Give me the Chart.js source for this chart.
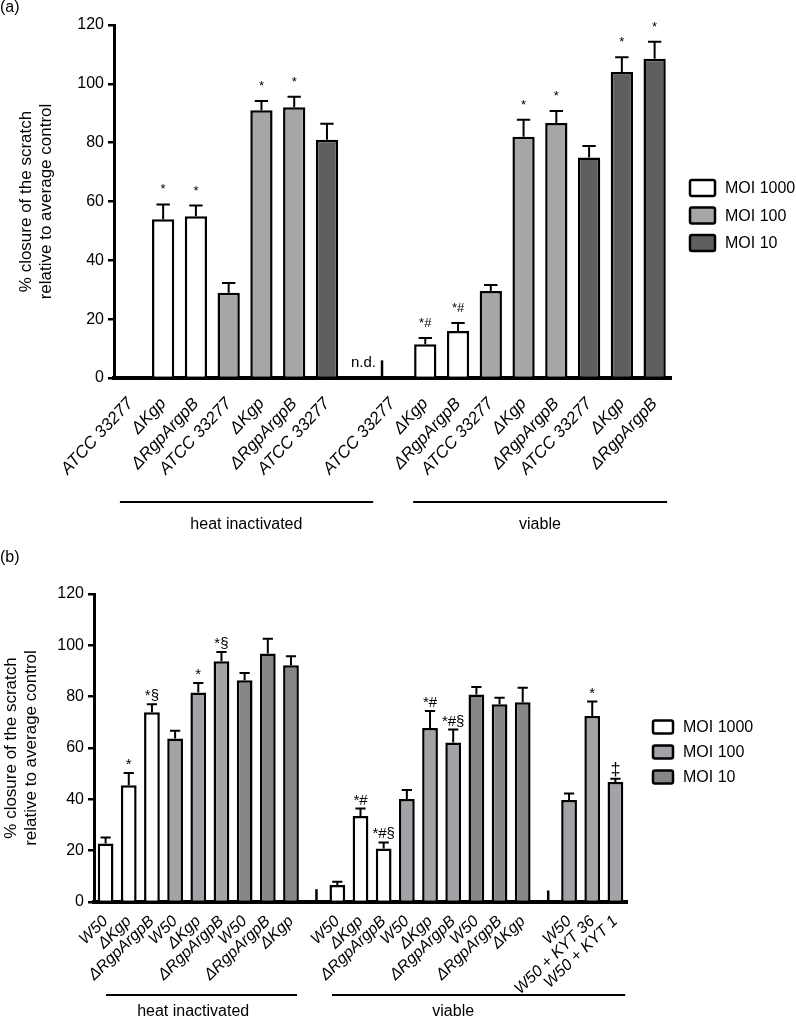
<!DOCTYPE html>
<html>
<head>
<meta charset="utf-8">
<script src="https://cdn.jsdelivr.net/npm/chart.js@4"></script>
<style>
  body { margin: 0; background: #fff; }
  .panel { position: absolute; left: 0; width: 796px; }
  #wrapA { top: 0; height: 545px; }
  #wrapB { top: 545px; height: 476px; }
</style>
</head>
<body>
<div class="panel" id="wrapA"><canvas id="chartA"></canvas></div>
<div class="panel" id="wrapB"><canvas id="chartB"></canvas></div>
<script>
// ---- panel (a) ----
const labelsA = ['ATCC 33277', 'ΔKgp', 'ΔRgpArgpB', 'ATCC 33277', 'ΔKgp', 'ΔRgpArgpB', 'ATCC 33277', '',
  'ATCC 33277', 'ΔKgp', 'ΔRgpArgpB', 'ATCC 33277', 'ΔKgp', 'ΔRgpArgpB', 'ATCC 33277', 'ΔKgp', 'ΔRgpArgpB'];
const moi1000A = [null, 54, 55, null, null, null, null, null, null, 11.5, 16, null, null, null, null, null, null];
const moi100A  = [null, null, null, 29, 91, 92, null, null, null, null, null, 29.6, 82, 86.7, null, null, null];
const moi10A   = [null, null, null, null, null, null, 81, null, null, null, null, null, null, null, 75, 104, 108.5];
const sem1000A = [null, 5, 3.6, null, null, null, null, null, null, 2.1, 2.7, null, null, null, null, null, null];
const sem100A  = [null, null, null, 3.3, 3.2, 3.6, null, null, null, null, null, 2, 5.8, 4.1, null, null, null];
const sem10A   = [null, null, null, null, null, null, 5.4, null, null, null, null, null, null, null, 3.9, 5, 5.8];
const marksA   = ['', '*', '*', '', '*', '*', '', '', '', '*#', '*#', '', '*', '*', '', '*', '*'];
const stubsA   = [null, null, null, null, null, null, null, null, 6, null, null, null, null, null, null, null, null];

// ---- panel (b) ----
const labelsB = ['W50', 'ΔKgp', 'ΔRgpArgpB', 'W50', 'ΔKgp', 'ΔRgpArgpB', 'W50', 'ΔRgpArgpB', 'ΔKgp', '',
  'W50', 'ΔKgp', 'ΔRgpArgpB', 'W50', 'ΔKgp', 'ΔRgpArgpB', 'W50', 'ΔRgpArgpB', 'ΔKgp', '',
  'W50', 'W50 + KYT 36', 'W50 + KYT 1'];
const moi1000B = [22.8, 45.5, 73.9, null, null, null, null, null, null, null,
  6.6, 33.5, 20.8, null, null, null, null, null, null, null, null, null, null];
const moi100B  = [null, null, null, 63.7, 81.6, 93.8, null, null, null, null,
  null, null, null, 40.1, 67.8, 62.1, null, null, null, null, 39.7, 72.5, 46.8];
const moi10B   = [null, null, null, null, null, null, 86.4, 96.8, 92.2, null,
  null, null, null, null, null, null, 80.8, 77, 77.8, null, null, null, null];
const sem1000B = [2.3, 4.8, 3.1, null, null, null, null, null, null, null,
  1.3, 2.9, 2.4, null, null, null, null, null, null, null, null, null, null];
const sem100B  = [null, null, null, 3, 3.7, 3.6, null, null, null, null,
  null, null, null, 3.5, 6.6, 5.1, null, null, null, null, 2.6, 5.6, 1.2];
const sem10B   = [null, null, null, null, null, null, 2.8, 5.8, 3.5, null,
  null, null, null, null, null, null, 3, 2.6, 5.7, null, null, null, null];
const marksB   = ['', '*', '*§', '', '*', '*§', '', '', '', '',
  '', '*#', '*#§', '', '*#', '*#§', '', '', '', '', '', '*', '‡'];
const stubsB   = [null, null, null, null, null, null, null, null, null, 5,
  null, null, null, null, null, null, null, null, null, 4.5, null, null, null];

const seriesNames = ['MOI 1000', 'MOI 100', 'MOI 10'];
const FONT = '"Liberation Sans", Arial, Helvetica, sans-serif';

Chart.defaults.font.family = FONT;
Chart.defaults.color = '#000';

// error bars, significance marks, stubs, legend, group brackets
const extras = {
  id: 'extras',
  afterDatasetsDraw(chart, args, o) {
    const {ctx, scales: {x, y}} = chart;
    ctx.save();
    ctx.strokeStyle = '#000';
    ctx.fillStyle = '#000';
    chart.data.datasets.forEach((ds, d) => {
      const meta = chart.getDatasetMeta(d);
      ds.data.forEach((v, i) => {
        if (v === null) return;
        const bar = meta.data[i];
        const top = y.getPixelForValue(v + o.sems[d][i]);
        const cap = bar.width * o.capFrac;
        ctx.lineWidth = 2;
        ctx.beginPath();
        ctx.moveTo(bar.x, bar.y);
        ctx.lineTo(bar.x, top);
        ctx.moveTo(bar.x - cap / 2, top);
        ctx.lineTo(bar.x + cap / 2, top);
        ctx.stroke();
        if (o.marks[i]) {
          ctx.font = o.marks[i] === '‡' ? '18px ' + FONT : o.markFont;
          ctx.textAlign = 'center';
          ctx.textBaseline = 'alphabetic';
          ctx.fillText(o.marks[i], bar.x, top - o.markGap);
        }
      });
    });
    // short stubs for empty / not determined slots
    const pitch = x.getPixelForValue(1) - x.getPixelForValue(0);
    o.stubs.forEach((h, i) => {
      if (h === null) return;
      const sx = x.getPixelForValue(i) + o.stubShift * pitch;
      ctx.lineWidth = 2.5;
      ctx.beginPath();
      ctx.moveTo(sx, y.getPixelForValue(0));
      ctx.lineTo(sx, y.getPixelForValue(h));
      ctx.stroke();
      if (o.ndText) {
        ctx.font = '15px ' + FONT;
        ctx.textAlign = 'right';
        ctx.textBaseline = 'middle';
        ctx.fillText(o.ndText, sx - 6, y.getPixelForValue(5));
      }
    });
    // group brackets below the axis
    o.groups.forEach(g => {
      ctx.lineWidth = 2;
      ctx.beginPath();
      ctx.moveTo(x.getPixelForValue(g.from), o.bracketY);
      ctx.lineTo(x.getPixelForValue(g.to), o.bracketY);
      ctx.stroke();
      ctx.font = '16px ' + FONT;
      ctx.textAlign = 'center';
      ctx.textBaseline = 'middle';
      ctx.fillText(g.text, x.getPixelForValue(g.at), o.bracketY + o.groupGap);
    });
    // legend
    const L = o.legend;
    chart.data.datasets.forEach((ds, k) => {
      const yy = L.y + k * L.gap;
      ctx.beginPath();
      ctx.roundRect(L.x, yy - L.h / 2, L.w, L.h, 2);
      ctx.fillStyle = ds.backgroundColor;
      ctx.fill();
      ctx.lineWidth = 2.5;
      ctx.stroke();
      ctx.fillStyle = '#000';
      ctx.font = '16px ' + FONT;
      ctx.textAlign = 'left';
      ctx.textBaseline = 'middle';
      ctx.fillText(ds.label, L.x + L.w + 10, yy + 1);
    });
    // panel letter
    ctx.font = '16px ' + FONT;
    ctx.textAlign = 'left';
    ctx.textBaseline = 'middle';
    ctx.fillText(o.letter, 0, o.letterY);
    ctx.restore();
  }
};

function makeChart(id, cfg) {
  const datasets = cfg.series.map((vals, k) => ({
    label: seriesNames[k],
    data: vals,
    backgroundColor: cfg.colors[k],
    borderColor: '#000',
    borderWidth: 2.5,
    grouped: false,
    categoryPercentage: 1,
    barPercentage: 0.68
  }));
  return new Chart(document.getElementById(id), {
    type: 'bar',
    data: { labels: cfg.labels, datasets },
    plugins: [extras],
    options: {
      responsive: true,
      maintainAspectRatio: false,
      animation: false,
      layout: { padding: cfg.padding },
      plugins: {
        legend: { display: false },
        tooltip: { enabled: false },
        extras: cfg.extras
      },
      scales: {
        x: {
          grid: { display: false },
          border: { display: true, color: '#000', width: 4 },
          ticks: {
            autoSkip: false,
            minRotation: cfg.rotation,
            maxRotation: cfg.rotation,
            padding: cfg.xPad,
            font: { size: cfg.xFont, style: 'italic' }
          },
          afterFit(s) { s.height = cfg.xHeight; }
        },
        y: {
          min: 0,
          max: 120,
          ticks: { stepSize: 20, padding: 4, font: { size: 16 } },
          grid: { drawOnChartArea: false, drawTicks: true, tickLength: 6, lineWidth: 2.5, color: '#000' },
          border: { display: true, color: '#000', width: 3 },
          title: {
            display: true,
            text: ['% closure of the scratch', 'relative to average control'],
            font: { size: 17, lineHeight: 1.15 },
            padding: { top: cfg.titlePad, bottom: 0 }
          },
          afterFit(s) { s.width = cfg.yWidth; }
        }
      }
    }
  });
}

makeChart('chartA', {
  labels: labelsA,
  series: [moi1000A, moi100A, moi10A],
  colors: ['#ffffff', '#a6a6a6', '#5f5f5f'],
  padding: { left: 0, right: 125, top: 25, bottom: 0 },
  xHeight: 167,
  yWidth: 114,
  rotation: 47,
  xPad: 8,
  xFont: 17,
  titlePad: 17,
  extras: {
    sems: [sem1000A, sem100A, sem10A],
    marks: marksA,
    markFont: '13px ' + FONT,
    markGap: 11,
    capFrac: 0.6,
    stubs: stubsA,
    stubShift: -0.32,
    ndText: 'n.d.',
    groups: [
      { text: 'heat inactivated', from: -0.32, to: 7.41, at: 3.54 },
      { text: 'viable', from: 8.63, to: 16.38, at: 12.5 }
    ],
    bracketY: 502,
    groupGap: 23,
    legend: { x: 690, y: 188, gap: 27.5, w: 25, h: 16 },
    letter: '(a)',
    letterY: 8
  }
});

makeChart('chartB', {
  labels: labelsB,
  series: [moi1000B, moi100B, moi10B],
  colors: ['#ffffff', '#a3a3a7', '#868686'],
  padding: { left: 0, right: 169, top: 49, bottom: 0 },
  xHeight: 119,
  yWidth: 94,
  rotation: 44,
  xPad: 2,
  xFont: 16,
  titlePad: 2,
  extras: {
    sems: [sem1000B, sem100B, sem10B],
    marks: marksB,
    markFont: '15px ' + FONT,
    markGap: 4,
    capFrac: 0.65,
    stubs: stubsB,
    stubShift: 0.1,
    ndText: '',
    groups: [
      { text: 'heat inactivated', from: 0.02, to: 8.26, at: 3.78 },
      { text: 'viable', from: 9.77, to: 22.42, at: 15.0 }
    ],
    bracketY: 450,
    groupGap: 17,
    legend: { x: 653, y: 182, gap: 25, w: 20, h: 13 },
    letter: '(b)',
    letterY: 13
  }
});
</script>
</body>
</html>
